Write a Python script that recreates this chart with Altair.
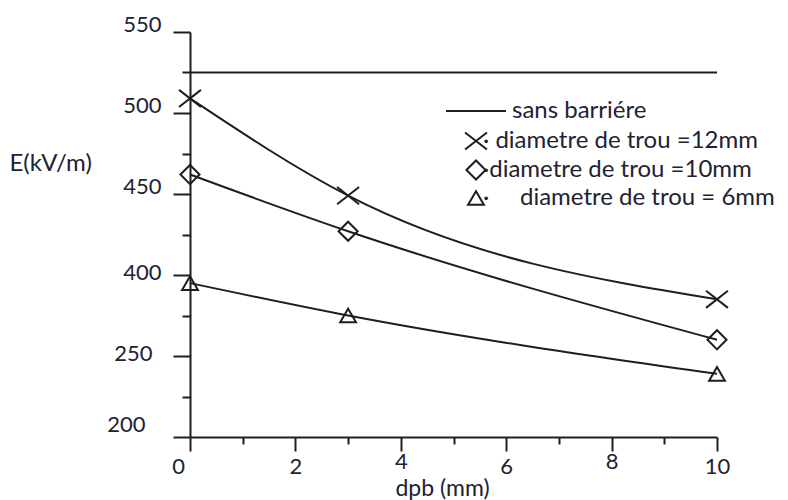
import altair as alt
import pandas as pd

# ---- data ----
dpb = [0, 3, 10]
e_12mm = [509, 449, 385]
e_10mm = [462, 427, 360]
e_6mm = [395, 375, 339]
e_sans = [525]

series_names = ["· diametre de trou =12mm", "·diametre de trou =10mm", "·\u00a0\u00a0\u00a0\u00a0 diametre de trou = 6mm"]
sans_name = ["sans barriére"]

y_tick_values = [550, 525, 500, 475, 450, 425, 400, 375, 350, 325, 300]
x_tick_values = [0, 1, 2, 3, 4, 5, 6, 7, 8, 9, 10]

x_path = "M-1,-0.78L1,0.78M-1,0.78L1,-0.78"
shapes = [x_path, "diamond", "triangle-up"]
sizes = [480, 250, 160]

INK = "#1e1e1e"
TXT = "#222233"
FONT = "Lato"

rows = []
for name, vals in zip(series_names, [e_12mm, e_10mm, e_6mm]):
    for xv, yv in zip(dpb, vals):
        rows.append({"series": name, "dpb": xv, "E": yv})
df = pd.DataFrame(rows)
df_sans = pd.DataFrame({"E": e_sans, "label": sans_name})

x_axis = alt.Axis(
    values=x_tick_values,
    title="dpb (mm)",
    labelExpr="datum.value % 2 == 0 ? datum.label : ''",
    tickSize={"condition": {"test": "datum.value % 2 != 0", "value": 7}, "value": 14},
    labelOffset={"condition": {"test": "datum.value == 0", "value": -12}, "value": 0},
    labelPadding={"condition": {"test": "datum.value == 4 || datum.value == 8", "value": 0}, "value": 5},
    labelFont=FONT, labelFontSize=22, labelColor=TXT,
    titleFont=FONT, titleFontSize=23, titleFontWeight="normal", titleColor=TXT,
    titleX=252, titleY=58, titleBaseline="alphabetic", titleAlign="center",
    domainColor=INK, domainWidth=2, tickColor=INK, tickWidth=2,
    grid=False, labelFlush=False, labelOverlap=False,
)

y_axis = alt.Axis(
    values=y_tick_values,
    format="d",
    title="E(kV/m)",
    labelExpr="datum.value == 350 ? '250' : datum.value == 300 ? '200' : (datum.value % 50 == 0 ? datum.label : '')",
    tickSize={"condition": {"test": "datum.value % 50 != 0", "value": 8}, "value": 17},
    labelOffset={"condition": [{"test": "datum.value >= 450", "value": -8},
                               {"test": "datum.value == 300", "value": -13}], "value": -3},
    labelPadding={"condition": [{"test": "datum.value == 350", "value": 21},
                                {"test": "datum.value == 300", "value": 28}], "value": 12},
    labelFont=FONT, labelFontSize=22, labelColor=TXT,
    titleFont=FONT, titleFontSize=24, titleFontWeight="normal", titleColor=TXT,
    titleAngle=0, titleX=-181, titleY=131, titleAlign="left", titleBaseline="middle",
    domainColor=INK, domainWidth=2, tickColor=INK, tickWidth=2,
    grid=False, labelFlush=False, labelOverlap=False,
)

xs = alt.Scale(domain=[0, 10], nice=False, zero=False)
ys = alt.Scale(domain=[300, 550], nice=False, zero=False)

lines = alt.Chart(df).mark_line(interpolate="monotone", color=INK, strokeWidth=2).encode(
    x=alt.X("dpb:Q", scale=xs, axis=x_axis),
    y=alt.Y("E:Q", scale=ys, axis=y_axis),
    detail="series:N",
)

shape_legend = alt.Legend(
    orient="none", legendX=274, legendY=97, title=None, padding=0,
    labelFont=FONT, labelFontSize=24, labelColor=TXT, labelLimit=0, labelOffset={"expr": "-5"},
    symbolStrokeColor=INK, symbolStrokeWidth=2, symbolFillColor="transparent",
    rowPadding=2,
)

points = alt.Chart(df).mark_point(filled=False, color=INK, strokeWidth=2, opacity=1).encode(
    x=alt.X("dpb:Q", scale=xs),
    y=alt.Y("E:Q", scale=ys),
    shape=alt.Shape("series:N", scale=alt.Scale(domain=series_names, range=shapes), legend=shape_legend),
    size=alt.Size("series:N", scale=alt.Scale(domain=series_names, range=sizes), legend=shape_legend),
)

rule = alt.Chart(df_sans).mark_rule(color=INK, strokeWidth=2).encode(
    y=alt.Y("E:Q", scale=ys),
    strokeDash=alt.StrokeDash(
        "label:N",
        scale=alt.Scale(domain=sans_name, range=[[1, 0]]),
        legend=alt.Legend(
            orient="none", legendX=255, legendY=48, title=None, padding=0,
            symbolType="stroke", symbolSize=3600, symbolStrokeColor=INK, symbolStrokeWidth=2,
            labelFont=FONT, labelFontSize=24, labelColor=TXT, labelLimit=0, labelOffset=5,
        ),
    ),
)

chart = (
    alt.layer(rule, lines, points)
    .properties(
        width=527, height=405,
        padding={"left": 190, "top": 32, "right": 71, "bottom": 63},
        autosize=alt.AutoSizeParams(type="none"),
        background="white",
    )
    .configure_view(stroke=None)
)

chart.save("out.html", embed_options={"renderer": "svg", "actions": False})
